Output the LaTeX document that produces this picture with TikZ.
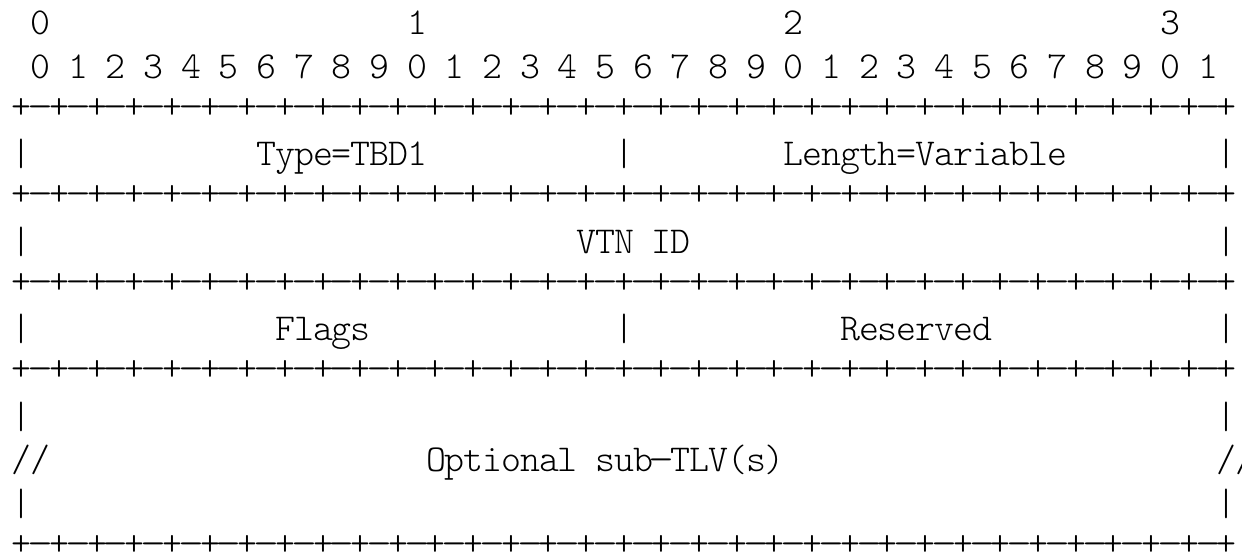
\documentclass[tikz,border=0pt]{standalone}
\usepackage{tikz}
\usepackage{graphicx}
\newlength\cw
\setlength\cw{18.83pt}
\ExplSyntaxOn
\NewDocumentCommand\cells{m}{%
  \str_map_inline:nn{#1}{%
    \str_if_eq:nnTF{##1}{-}
      {\hbox_to_wd:nn{\cw}{\hss\scalebox{1.3}[1]{-}\hss}}
      {\hbox_to_wd:nn{\cw}{\hss##1\hss}}}}
\ExplSyntaxOff
\tikzset{
  txt/.style={anchor=base west, inner sep=0pt, outer sep=0pt,
    font=\ttfamily\fontseries{l}\fontsize{38}{44}\selectfont, text=black},
}
\begin{document}
\begin{tikzpicture}
\useasboundingbox[fill=white] (0,0) rectangle (1242pt,-554pt);
\begin{scope}[shift={(12.3pt,-34.3pt)}, x=18.83pt, y=-43.75pt]
% bit numbering
\node[txt] (h0a) at (1,0) {\cells{0}};
\node[txt] (h0b) at (21,0) {\cells{1}};
\node[txt] (h0c) at (41,0) {\cells{2}};
\node[txt] (h0d) at (61,0) {\cells{3}};
\node[txt] (h1) at (1,1) {\cells{0 1 2 3 4 5 6 7 8 9 0 1 2 3 4 5 6 7 8 9 0 1 2 3 4 5 6 7 8 9 0 1}};
% rulers
\foreach \r in {2,4,6,8,12}{
  \node[txt] (rule\r) at (0,\r-0.08) {\cells{+-+-+-+-+-+-+-+-+-+-+-+-+-+-+-+-+-+-+-+-+-+-+-+-+-+-+-+-+-+-+-+-+}};
}
% row 3
\node[txt] (r3a) at (0,3) {\cells{|}};
\node[txt] (type) at (13,3) {\cells{Type=TBD1}};
\node[txt] (r3b) at (32,3) {\cells{|}};
\node[txt] (len) at (41,3) {\cells{Length=Variable}};
\node[txt] (r3c) at (64,3) {\cells{|}};
% row 5
\node[txt] (r5a) at (0,5) {\cells{|}};
\node[txt] (vtn) at (30,5) {\cells{VTN ID}};
\node[txt] (r5c) at (64,5) {\cells{|}};
% row 7
\node[txt] (r7a) at (0,7) {\cells{|}};
\node[txt] (flags) at (14,7) {\cells{Flags}};
\node[txt] (r7b) at (32,7) {\cells{|}};
\node[txt] (res) at (44,7) {\cells{Reserved}};
\node[txt] (r7c) at (64,7) {\cells{|}};
% rows 9-11
\node[txt] (r9a) at (0,9) {\cells{|}};
\node[txt] (r9c) at (64,9) {\cells{|}};
\node[txt] (r10a) at (0,10) {\cells{//}};
\node[txt] (opt) at (22,10) {\cells{Optional sub-TLV(s)}};
\node[txt] (r10c) at (64,10) {\cells{//}};
\node[txt] (r11a) at (0,11) {\cells{|}};
\node[txt] (r11c) at (64,11) {\cells{|}};
\end{scope}
\end{tikzpicture}
\end{document}
